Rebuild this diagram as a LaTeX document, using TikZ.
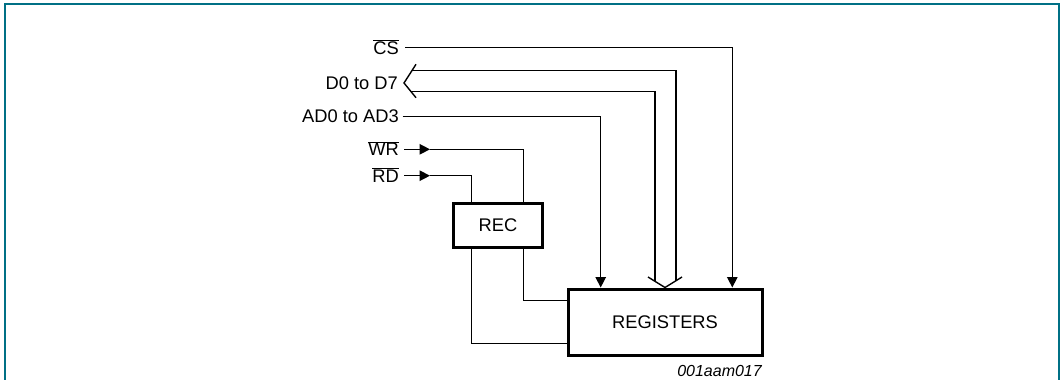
\documentclass[tikz,border=0pt]{standalone}
\usepackage{fontspec}
\setmainfont{Liberation Sans}
\usetikzlibrary{arrows.meta}
\newcommand{\ovl}[1]{$\overline{\hbox{#1}}$}
\definecolor{framecol}{HTML}{007085}
\tikzset{
  wire/.style={line width=1.4pt, line join=miter},
  arr/.style={wire, -{Triangle[length=10.5pt,width=10.5pt]}},
  blk/.style={draw, line width=3pt, minimum width=#1, inner sep=0pt, font=\fontsize{18.3}{20}\selectfont},
  lbl/.style={anchor=base east, inner sep=0pt, font=\fontsize{18.3}{20}\selectfont},
}
\begin{document}
\begin{tikzpicture}[x=1pt,y=-1pt]
\useasboundingbox (0,0) rectangle (1063,380);
\draw[framecol, line width=2pt] (5,380) -- (5,4) -- (1059,4) -- (1059,380);

% blocks
\node[blk=89pt, minimum height=44pt] (rec) at (498,225) {REC};
\node[blk=194pt, minimum height=66pt] (regs) at (665,322) {REGISTERS};

% labels
\node[lbl] (cs) at (399,54) {\ovl{CS}};
\node[lbl] (dd) at (398,89.8) {D0 to D7};
\node[lbl] (ad) at (399,122.6) {AD0 to AD3};
\node[lbl] (wr) at (399,155.8) {\ovl{WR}};
\node[lbl] (rd) at (399,182.2) {\ovl{RD}};
\node[anchor=base east, inner sep=0pt, font=\fontsize{16}{18}\selectfont\itshape] (id) at (762,376) {001aam017};

% coordinates
\coordinate (cs0) at (405,47.3);
\coordinate (cs1) at (732.3,47.3);
\coordinate (ad0) at (402.7,116.7);
\coordinate (ad1) at (600.7,116.7);
\coordinate (wr0) at (404,149.3);
\coordinate (wra) at (430,149.3);
\coordinate (wr1) at (523.7,149.3);
\coordinate (rd0) at (404,175.7);
\coordinate (rda) at (430,175.7);
\coordinate (rd1) at (471.7,175.7);

% CS and AD
\draw[arr] (cs0) -- (cs1) -- (cs1 |- regs.north);
\draw[arr] (ad0) -- (ad1) -- (ad1 |- regs.north);

% WR, RD
\draw[arr] (wr0) -- (wra);
\draw[wire] (wra) -- (wr1) -- (wr1 |- rec.north);
\draw[arr] (rd0) -- (rda);
\draw[wire] (rda) -- (rd1) -- (rd1 |- rec.north);

% REC to REGISTERS
\coordinate (r1) at (523.7,300.7);
\coordinate (r2) at (471.7,343.7);
\draw[wire] (r1 |- rec.south) -- (r1) -- (r1 -| regs.west);
\draw[wire] (r2 |- rec.south) -- (r2) -- (r2 -| regs.west);

% data bus
\coordinate (ba) at (416,64.3);
\coordinate (bb) at (404,83);
\coordinate (bc) at (416,97.7);
\draw[wire] (ba) -- (bb) -- (bc);
\coordinate (u0) at (411.9,70.7);
\coordinate (u1) at (676,70.7);
\coordinate (l0) at (411.1,91.7);
\coordinate (l1) at (655,91.7);
\coordinate (ca) at (648,277);
\coordinate (cb) at (665,287.5);
\coordinate (cc) at (682,277);
\draw[wire] (ca) -- (cb) -- (cc);
\draw[wire] (u0) -- (u1) -- (676,280.7);
\draw[wire] (l0) -- (l1) -- (655,281.3);
\end{tikzpicture}
\end{document}
